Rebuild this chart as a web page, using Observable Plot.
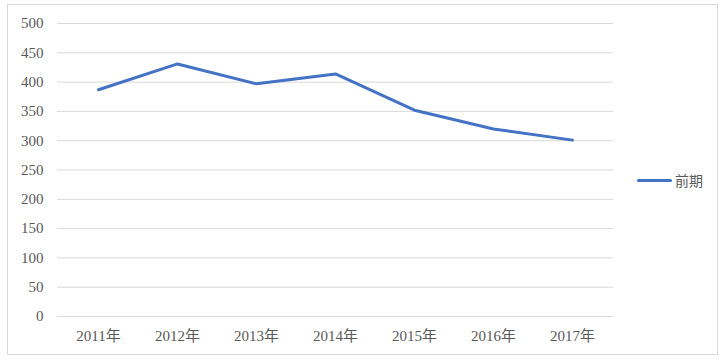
<!DOCTYPE html>
<html>
<head>
<meta charset="utf-8">
<script src="https://cdn.jsdelivr.net/npm/d3@7"></script>
<script src="https://cdn.jsdelivr.net/npm/@observablehq/plot@0.6"></script>
<style>
  html, body { margin: 0; padding: 0; background: #fff; }
  #wrap { position: relative; width: 726px; height: 362px; }
  #frame { position: absolute; left: 7px; top: 4px; width: 711px; height: 351px; border: 1px solid #d9d9d9; box-sizing: border-box; }
  #chart { position: absolute; left: 0; top: 0; }
  #legend { position: absolute; left: 637px; top: 170px; display: flex; align-items: center;
    font-family: "Liberation Serif", "Noto Sans CJK JP", serif; font-size: 14px; color: #595959; }
  #legend .sw { width: 35px; height: 3px; background: #4472C4; border-radius: 2px; margin-right: 3px; }
</style>
</head>
<body>
<div id="wrap">
  <div id="frame"></div>
  <div id="chart"></div>
  <div id="legend"><span class="sw"></span><span id="legtext"></span></div>
</div>
<script>
const categories = ["2011年", "2012年", "2013年", "2014年", "2015年", "2016年", "2017年"];
const values = [387, 431, 397, 414, 352, 320, 301];
const yTicks = [0, 50, 100, 150, 200, 250, 300, 350, 400, 450, 500];
const seriesName = "前期";

const data = categories.map((c, i) => ({year: c, value: values[i]}));

const chart = Plot.plot({
  width: 726,
  height: 362,
  marginLeft: 57,
  marginRight: 113,
  marginTop: 23,
  marginBottom: 46,
  style: {fontFamily: '"Liberation Serif", "Noto Sans CJK JP", serif', fontSize: "15px", color: "#595959", background: "transparent"},
  x: {type: "point", domain: categories, padding: 0.5, label: null},
  y: {domain: [0, 500], label: null},
  marks: [
    Plot.ruleY(yTicks, {stroke: "#d9d9d9", strokeWidth: 1}),
    Plot.axisY({ticks: yTicks, tickSize: 0, tickPadding: 14, label: null, fill: "#595959"}),
    Plot.axisX({tickSize: 0, tickPadding: 14, label: null, fill: "#595959", fontSize: 15}),
    Plot.line(data, {x: "year", y: "value", stroke: "#4472C4", strokeWidth: 3, strokeLinejoin: "round", strokeLinecap: "round"})
  ]
});
document.getElementById("chart").appendChild(chart);
document.getElementById("legtext").textContent = seriesName;
</script>
</body>
</html>
